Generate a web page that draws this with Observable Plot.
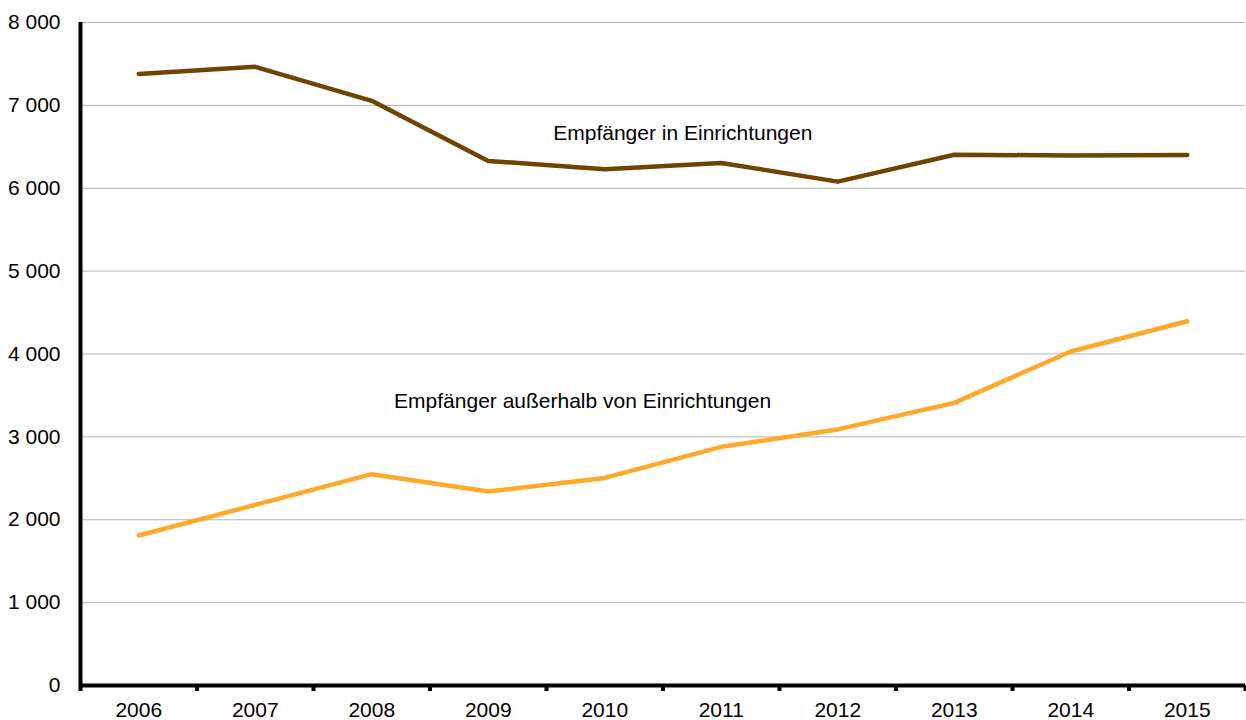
<!DOCTYPE html>
<html>
<head>
<meta charset="utf-8">
<script src="https://cdn.jsdelivr.net/npm/d3@7"></script>
<script src="https://cdn.jsdelivr.net/npm/@observablehq/plot@0.6"></script>
<style>
  html, body { margin: 0; padding: 0; background: #fff; }
</style>
</head>
<body>
<div id="chart"></div>
<script>
const years = [2006, 2007, 2008, 2009, 2010, 2011, 2012, 2013, 2014, 2015];
const inEinrichtungen = [7380, 7465, 7055, 6330, 6230, 6305, 6080, 6405, 6395, 6400];
const ausserhalb = [1810, 2180, 2550, 2340, 2505, 2880, 3090, 3410, 4030, 4395];
const yTicks = [0, 1000, 2000, 3000, 4000, 5000, 6000, 7000, 8000];
const seriesNames = ["Empfänger in Einrichtungen", "Empfänger außerhalb von Einrichtungen"];
const labelYears = [2010.67, 2009.81];
const labelValues = [6660, 3430];
const colors = ["#704300", "#FFA82A"];

const xDomain = [years[0] - 0.5, years[years.length - 1] + 0.5];
const boundaries = d3.range(xDomain[0], xDomain[1] + 0.01, 1);

const rows = years.flatMap((yr, i) => [
  {year: yr, value: inEinrichtungen[i], series: seriesNames[0]},
  {year: yr, value: ausserhalb[i], series: seriesNames[1]}
]);
const labels = seriesNames.map((s, i) => ({text: s, year: labelYears[i], value: labelValues[i]}));

const fmt = d => d3.format(",")(d).replace(/,/g, " ");

const chart = Plot.plot({
  width: 1246,
  height: 720,
  marginLeft: 80,
  marginRight: 1,
  marginTop: 22,
  marginBottom: 35,
  style: {fontFamily: "'Liberation Sans', Arial, sans-serif", fontSize: "21px", color: "#000", background: "#fff"},
  x: {type: "linear", domain: xDomain},
  y: {domain: [0, 8000]},
  color: {domain: seriesNames, range: colors},
  marks: [
    Plot.gridY(yTicks, {stroke: "#b3b3b3", strokeOpacity: 1, strokeWidth: 1}),
    Plot.axisY(yTicks, {tickSize: 0, tickPadding: 20, tickFormat: fmt, fontSize: 21, label: null}),
    Plot.axisX(years, {tickSize: 0, tickPadding: 17, tickFormat: d => String(d), fontSize: 21, label: null}),
    Plot.axisX(boundaries, {tickSize: 6, strokeWidth: 4, tickFormat: () => "", label: null}),
    Plot.ruleY([0], {stroke: "#000", strokeWidth: 4}),
    Plot.ruleX([xDomain[0]], {stroke: "#000", strokeWidth: 4}),
    Plot.line(rows, {x: "year", y: "value", z: "series", stroke: "series", strokeWidth: 4.5, strokeLinejoin: "round", strokeLinecap: "round"}),
    Plot.text(labels, {x: "year", y: "value", text: "text", fontSize: 21, fill: "#000", textAnchor: "middle", lineAnchor: "middle"})
  ]
});
document.getElementById("chart").appendChild(chart);
</script>
</body>
</html>
